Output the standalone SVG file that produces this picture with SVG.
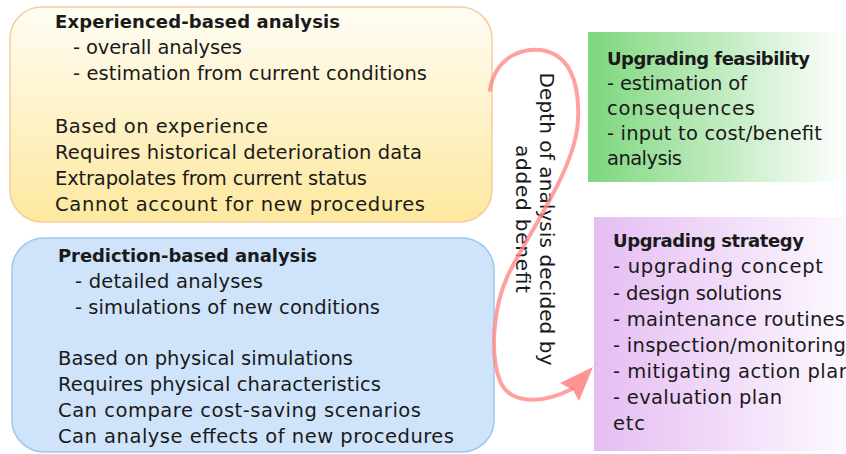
<svg xmlns="http://www.w3.org/2000/svg" width="846" height="454" viewBox="0 0 846 454">
<defs>
<linearGradient id="gY" x1="0" y1="0" x2="0" y2="1"><stop offset="0" stop-color="#fffdf4"/><stop offset="1" stop-color="#fde89e"/></linearGradient>
<linearGradient id="gG" x1="0" y1="0" x2="1" y2="0"><stop offset="0" stop-color="#7dd77d"/><stop offset="1" stop-color="#ffffff"/></linearGradient>
<linearGradient id="gP" x1="0" y1="0" x2="1" y2="0"><stop offset="0" stop-color="#e5bdf3"/><stop offset="1" stop-color="#fdf8fe"/></linearGradient>
<style>
text{font-family:"DejaVu Sans","Liberation Sans",sans-serif;fill:#1a1a1a;font-size:19.5px}
.t{font-weight:bold;font-size:18px}
.v{font-size:20px}
</style>
</defs>
<g id="experience">
<rect x="10" y="7" width="482" height="215" rx="32" fill="url(#gY)" stroke="#f8cc9c" stroke-width="1.5"/>
<text class="t" x="55" y="28" textLength="285">Experienced-based analysis</text>
<text x="73" y="54" textLength="169">- overall analyses</text>
<text x="73" y="80" textLength="354">- estimation from current conditions</text>
<text x="55" y="133" textLength="213">Based on experience</text>
<text x="55" y="159" textLength="367">Requires historical deterioration data</text>
<text x="55" y="185" textLength="312">Extrapolates from current status</text>
<text x="55" y="211" textLength="370">Cannot account for new procedures</text>
</g>
<g id="prediction">
<rect x="12" y="238" width="482" height="214" rx="32" fill="#cfe4fb" stroke="#9dc8f1" stroke-width="1.5"/>
<text class="t" x="58" y="262" textLength="259">Prediction-based analysis</text>
<text x="75" y="288" textLength="188">- detailed analyses</text>
<text x="75" y="314" textLength="305">- simulations of new conditions</text>
<text x="58" y="365" textLength="295">Based on physical simulations</text>
<text x="58" y="391" textLength="323">Requires physical characteristics</text>
<text x="58" y="417" textLength="363">Can compare cost-saving scenarios</text>
<text x="58" y="443" textLength="396">Can analyse effects of new procedures</text>
</g>
<g id="feasibility">
<rect x="588" y="32" width="258" height="150" fill="url(#gG)"/>
<text class="t" x="607" y="65" textLength="203">Upgrading feasibility</text>
<text x="607" y="90" textLength="140">- estimation of</text>
<text x="607" y="115" textLength="148">consequences</text>
<text x="607" y="140" textLength="215">- input to cost/benefit</text>
<text x="607" y="165" textLength="75">analysis</text>
</g>
<g id="strategy">
<rect x="594" y="217" width="252" height="234" fill="url(#gP)"/>
<text class="t" x="613" y="247" textLength="191">Upgrading strategy</text>
<text x="613" y="273" textLength="210">- upgrading concept</text>
<text x="613" y="300" textLength="169">- design solutions</text>
<text x="613" y="326" textLength="232">- maintenance routines</text>
<text x="613" y="352" textLength="233">- inspection/monitoring</text>
<text x="613" y="378" textLength="238">- mitigating action plan</text>
<text x="613" y="404" textLength="169">- evaluation plan</text>
<text x="613" y="430" textLength="32">etc</text>
</g>
<g id="label">
<text class="v" transform="translate(540,219) rotate(90)" text-anchor="middle" textLength="293">Depth of analysis decided by</text>
<text class="v" transform="translate(516,219) rotate(90)" text-anchor="middle" textLength="148">added benefit</text>
</g>
<g id="connectors">
<path d="M490,90 C494,62 516,48 540,50 C568,53 580,80 578,120 C576,168 530,230 508,275 C494,305 489,352 500,381 C510,405 542,404 572,389" fill="none" stroke="#ff8a8a" stroke-opacity="0.8" stroke-width="4" stroke-linecap="round"/>
<path d="M593,367 L560,383 L573,390 L579,401 Z" fill="#ff7070" fill-opacity="0.75"/>
</g>
</svg>
